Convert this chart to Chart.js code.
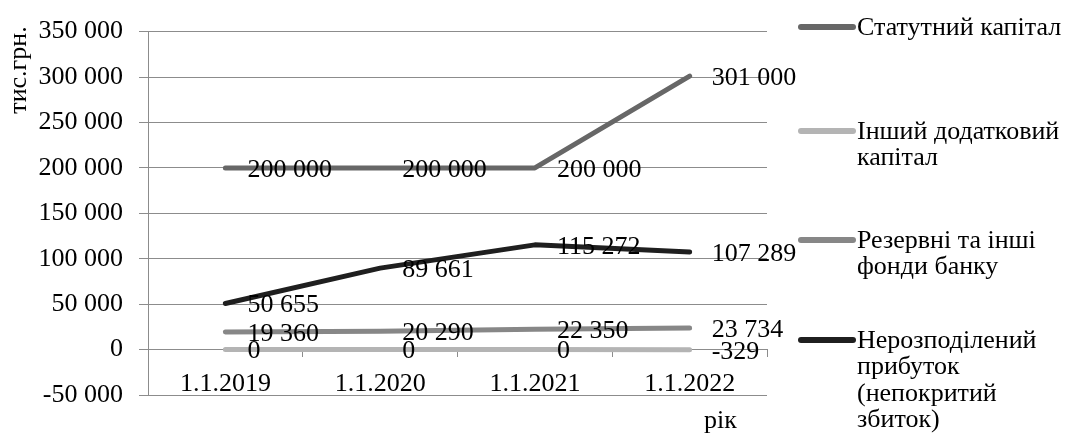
<!DOCTYPE html>
<html>
<head>
<meta charset="utf-8">
<script src="https://cdn.jsdelivr.net/npm/chart.js@4/dist/chart.umd.min.js"></script>
<style>
  body { margin: 0; background: #fff; }
  #wrap { width: 1071px; height: 439px; position: relative; }
</style>
</head>
<body>
<div id="wrap"><canvas id="capitalChart"></canvas></div>
<script>
const dates = ["1.1.2019", "1.1.2020", "1.1.2021", "1.1.2022"];
const statutory = [200000, 200000, 200000, 301000];
const otherCapital = [0, 0, 0, -329];
const reserves = [19360, 20290, 22350, 23734];
const retained = [50655, 89661, 115272, 107289];
const names = [
  ["Статутний капітал"],
  ["Інший додатковий", "капітал"],
  ["Резервні та інші", "фонди банку"],
  ["Нерозподілений", "прибуток", "(непокритий", "збиток)"]
];
const colors = ["#676767", "#b4b4b4", "#878787", "#1f1f1f"];

const FONT = '"Liberation Serif", "Times New Roman", serif';
const FS = 26;
const gridColor = "#8c8c8c";

function fmt(v) {
  const s = Math.abs(v).toString().replace(/\B(?=(\d{3})+(?!\d))/g, " ");
  return (v < 0 ? "-" : "") + s;
}

// value labels to the right of every point
const valueLabels = {
  id: "valueLabels",
  afterDatasetsDraw(chart) {
    const ctx = chart.ctx;
    ctx.save();
    ctx.font = FS + "px " + FONT;
    ctx.fillStyle = "#000";
    ctx.textAlign = "left";
    ctx.textBaseline = "middle";
    chart.data.datasets.forEach((ds, i) => {
      chart.getDatasetMeta(i).data.forEach((pt, j) => {
        ctx.fillText(fmt(ds.data[j]), pt.x + 22, pt.y + 2);
      });
    });
    ctx.restore();
  }
};

// legend on the right, multi-line entries
const legendY = [27, 131, 240, 340];
const sideLegend = {
  id: "sideLegend",
  afterDraw(chart) {
    const ctx = chart.ctx;
    ctx.save();
    ctx.font = FS + "px " + FONT;
    ctx.textAlign = "left";
    ctx.textBaseline = "middle";
    chart.data.datasets.forEach((ds, i) => {
      const y = legendY[i];
      ctx.strokeStyle = ds.borderColor;
      ctx.lineWidth = 6;
      ctx.lineCap = "round";
      ctx.beginPath();
      ctx.moveTo(801, y);
      ctx.lineTo(853, y);
      ctx.stroke();
      ctx.fillStyle = "#000";
      names[i].forEach((line, k) => ctx.fillText(line, 857, y + 1 + k * 26.5));
    });
    // axis titles
    ctx.fillText("рік", 704, 421);
    ctx.translate(19, 70);
    ctx.rotate(-Math.PI / 2);
    ctx.textAlign = "center";
    ctx.fillText("тис.грн.", 0, 0);
    ctx.restore();
  }
};

const series = [statutory, otherCapital, reserves, retained];

new Chart(document.getElementById("capitalChart"), {
  type: "line",
  data: {
    labels: dates,
    datasets: series.map((d, i) => ({
      label: names[i].join(" "),
      data: d,
      borderColor: colors[i],
      backgroundColor: colors[i],
      borderWidth: 5,
      borderCapStyle: "round",
      borderJoinStyle: "round",
      pointRadius: 0,
      tension: 0
    }))
  },
  options: {
    responsive: true,
    maintainAspectRatio: false,
    animation: false,
    layout: { padding: { top: 28, right: 304, bottom: 44, left: 0 } },
    plugins: { legend: { display: false }, tooltip: { enabled: false } },
    scales: {
      x: {
        type: "category",
        position: { y: 0 },
        offset: true,
        grid: { offset: true, drawOnChartArea: false, tickLength: 7, color: gridColor },
        border: { color: gridColor },
        ticks: { color: "#000", font: { family: FONT, size: FS }, padding: 12, maxRotation: 0 }
      },
      y: {
        min: -50000,
        max: 350000,
        afterFit(scale) { scale.width = 148; },
        ticks: {
          stepSize: 50000,
          color: "#000",
          font: { family: FONT, size: FS },
          padding: 16,
          callback: v => fmt(v)
        },
        grid: { color: gridColor, tickLength: 9 },
        border: { color: gridColor }
      }
    }
  },
  plugins: [valueLabels, sideLegend]
});
</script>
</body>
</html>
